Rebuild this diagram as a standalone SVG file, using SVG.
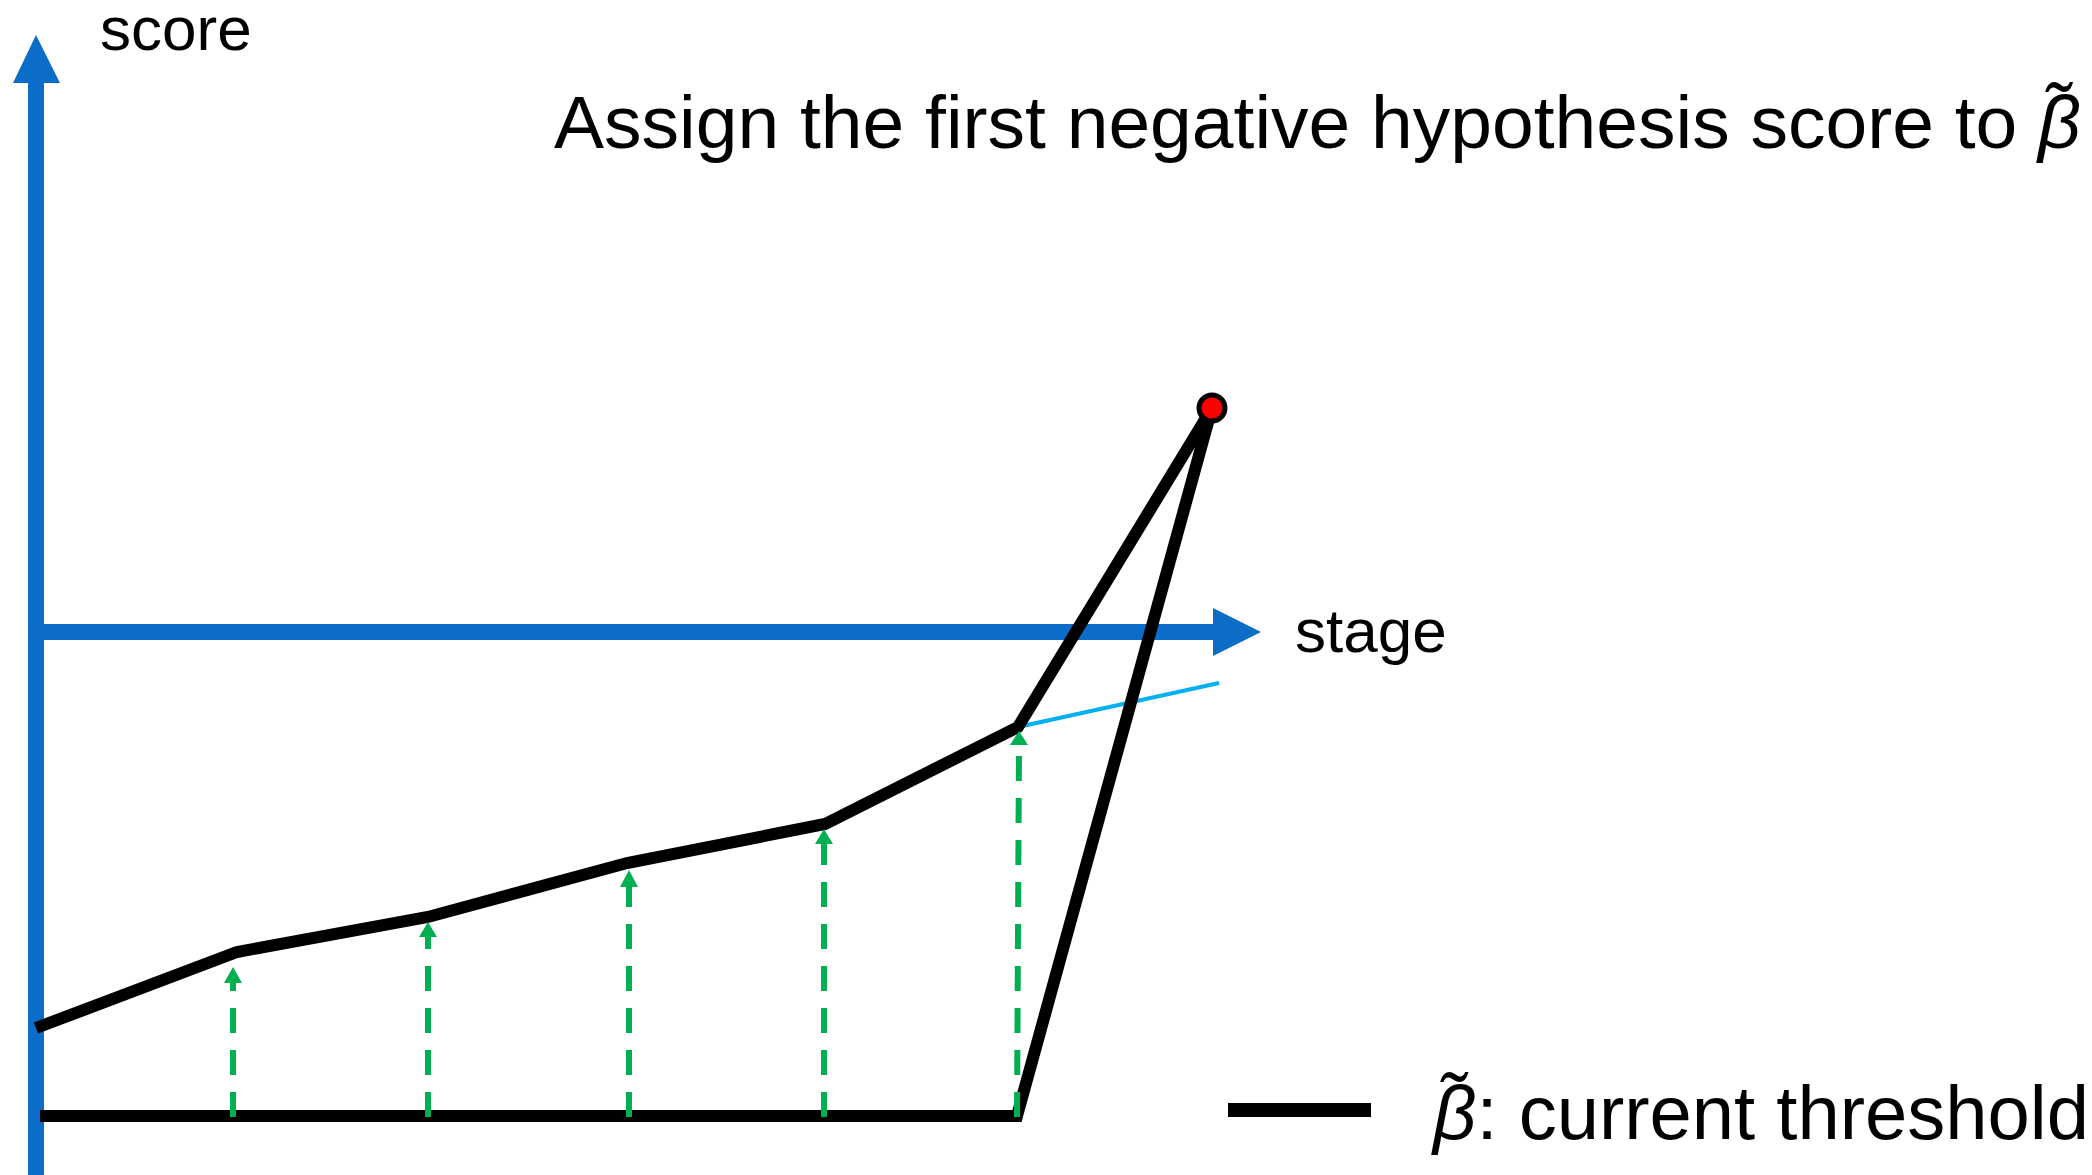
<svg xmlns="http://www.w3.org/2000/svg" width="2092" height="1175" viewBox="0 0 2092 1175">
<defs>
<style>
.txt{font-family:"Liberation Sans",Arial,sans-serif;fill:#000}
.axis{stroke:#0B6DC7;stroke-width:16;fill:none}
.axhead{fill:#0B6DC7}
.blk{stroke:#000;stroke-width:12;fill:none;stroke-linejoin:miter}
.grn{stroke:#00B050;stroke-width:6;fill:none;stroke-dasharray:25 17}
.ghead{fill:#00B050}
</style>
</defs>
<rect width="2092" height="1175" fill="#fff"/>
<g id="axes">
<line class="axis" x1="36" y1="1175" x2="36" y2="82"/>
<polygon class="axhead" points="13,83 36,35 60,83"/>
<line class="axis" x1="36" y1="632" x2="1214" y2="632"/>
<polygon class="axhead" points="1213,608 1261,632 1213,656"/>
</g>
<g id="labels">
<text class="txt" x="100" y="50" font-size="62">score</text>
<text class="txt" x="1295" y="652" font-size="62">stage</text>
<text class="txt" x="554" y="148" font-size="75">Assign the first negative hypothesis score to <tspan font-style="italic">β̃</tspan></text>
</g>
<g id="connectors">
<line x1="1018" y1="727" x2="1219" y2="683" stroke="#00B0F0" stroke-width="4"/>
<polyline class="blk" points="40,1116 1017,1116 1212,408"/>
<polyline class="blk" points="36,1028 237,952 428,917 627,863 825,824 1018,727 1212,408"/>
<line class="grn" x1="233" y1="1117" x2="233" y2="983"/>
<polygon class="ghead" points="224,983 233,967 242,983"/>
<line class="grn" x1="428" y1="1117" x2="428" y2="937"/>
<polygon class="ghead" points="419,937 428,922 437,937"/>
<line class="grn" x1="629" y1="1117" x2="629" y2="886"/>
<polygon class="ghead" points="620,887 629,870 638,887"/>
<line class="grn" x1="824" y1="1117" x2="824" y2="844"/>
<polygon class="ghead" points="815,844 824,829 833,844"/>
<line class="grn" x1="1017" y1="1117" x2="1019" y2="743"/>
<polygon class="ghead" points="1010,745 1019,731 1028,745"/>
</g>
<g id="peak">
<circle cx="1212" cy="408" r="13" fill="#FF0000" stroke="#000" stroke-width="5"/>
</g>
<g id="legend">
<line x1="1228" y1="1110" x2="1371" y2="1110" stroke="#000" stroke-width="14"/>
<text class="txt" x="1433" y="1139" font-size="76"><tspan font-style="italic">β̃</tspan>: current threshold</text>
</g>
</svg>
